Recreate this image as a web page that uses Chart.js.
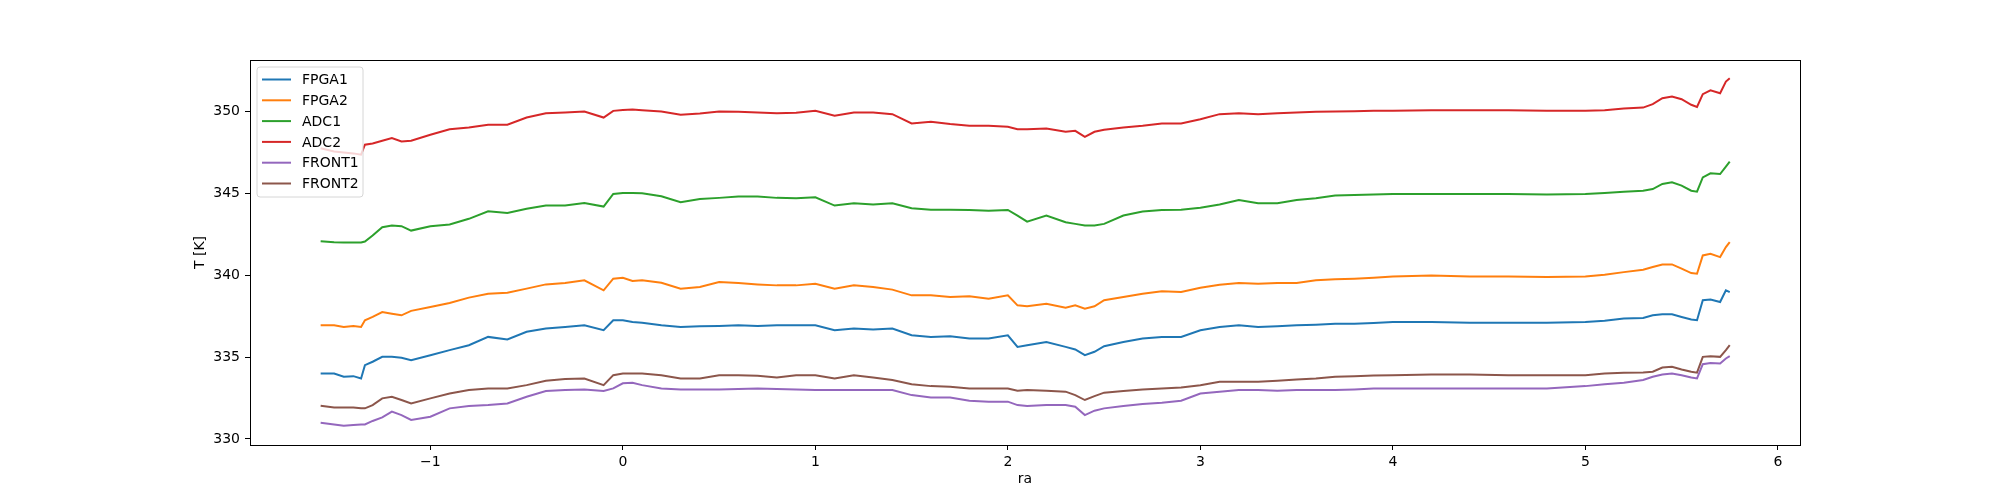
<!DOCTYPE html>
<html>
<head>
<meta charset="utf-8">
<script src="https://cdn.jsdelivr.net/npm/chart.js@4.4.1/dist/chart.umd.min.js"></script>
<style>
  body { margin: 0; background: #fff; }
  #wrap { width: 2000px; height: 500px; }
</style>
</head>
<body>
<div id="wrap"><canvas id="tempChart" width="2000" height="500"></canvas></div>
<script>
// ra values (shared by all series)
const ra = [-1.57, -1.5, -1.45, -1.4, -1.36, -1.34, -1.3, -1.25, -1.2, -1.15, -1.1,
    -1.0, -0.9, -0.8, -0.7, -0.6, -0.5, -0.4, -0.3, -0.2, -0.1, -0.05, 0, 0.05, 0.1,
    0.2, 0.3, 0.4, 0.5, 0.6, 0.7, 0.8, 0.9, 1.0, 1.1, 1.2, 1.3, 1.4, 1.5, 1.6, 1.7, 1.8, 1.9, 2.0,
    2.05, 2.1, 2.2, 2.3, 2.35, 2.4, 2.45, 2.5, 2.6, 2.7, 2.8, 2.9, 3.0, 3.1, 3.2, 3.3, 3.4, 3.5,
    3.6, 3.7, 3.8, 3.9, 4.0, 4.2, 4.4, 4.6, 4.8, 5.0, 5.1, 5.2, 5.3,
    5.35, 5.4, 5.45, 5.5, 5.55, 5.58, 5.61, 5.65, 5.7, 5.73, 5.75];

const fpga1 = [334.00, 334.00, 333.80, 333.84, 333.70, 334.51, 334.72, 335.02, 335.02, 334.96, 334.82,
    335.12, 335.43, 335.73, 336.24, 336.08, 336.55, 336.75, 336.85, 336.95, 336.65, 337.26, 337.26, 337.15, 337.11,
    336.95, 336.85, 336.89, 336.91, 336.95, 336.91, 336.95, 336.95, 336.95, 336.65, 336.75, 336.69, 336.75, 336.34, 336.24, 336.28, 336.14, 336.14, 336.34,
    335.63, 335.73, 335.93, 335.63, 335.47, 335.12, 335.33, 335.67, 335.93, 336.14, 336.24, 336.24, 336.65, 336.85, 336.95, 336.85, 336.89, 336.95,
    336.99, 337.05, 337.05, 337.09, 337.15, 337.15, 337.11, 337.11, 337.11, 337.15, 337.22, 337.36, 337.40,
    337.56, 337.62, 337.62, 337.46, 337.30, 337.26, 338.48, 338.52, 338.37, 339.09, 338.98];

const fpga2 = [336.95, 336.95, 336.85, 336.91, 336.85, 337.26, 337.46, 337.76, 337.66, 337.56, 337.83,
    338.07, 338.31, 338.64, 338.88, 338.94, 339.19, 339.45, 339.53, 339.70, 339.09, 339.80, 339.86, 339.66, 339.70,
    339.55, 339.19, 339.29, 339.59, 339.53, 339.45, 339.39, 339.39, 339.49, 339.19, 339.39, 339.29, 339.13, 338.78, 338.78, 338.68, 338.72, 338.58, 338.78,
    338.17, 338.11, 338.27, 338.03, 338.17, 337.97, 338.11, 338.48, 338.68, 338.88, 339.03, 338.99, 339.25, 339.43, 339.53, 339.49, 339.53, 339.53,
    339.70, 339.76, 339.80, 339.86, 339.94, 340.00, 339.94, 339.94, 339.90, 339.94, 340.04, 340.20, 340.35,
    340.51, 340.67, 340.67, 340.41, 340.14, 340.10, 341.22, 341.32, 341.12, 341.73, 342.03];

const adc1 = [342.09, 342.03, 342.01, 342.01, 342.01, 342.07, 342.44, 342.95, 343.05, 343.01, 342.74,
    343.01, 343.11, 343.46, 343.92, 343.82, 344.07, 344.27, 344.27, 344.43, 344.21, 344.98, 345.04, 345.04, 345.02,
    344.84, 344.47, 344.67, 344.74, 344.82, 344.82, 344.74, 344.72, 344.78, 344.27, 344.41, 344.33, 344.41, 344.11, 344.02, 344.02, 344.00, 343.96, 344.00,
    343.66, 343.29, 343.66, 343.25, 343.15, 343.05, 343.05, 343.15, 343.66, 343.90, 344.00, 344.02, 344.13, 344.33, 344.61, 344.41, 344.41, 344.61,
    344.72, 344.88, 344.92, 344.94, 344.98, 344.98, 344.98, 344.98, 344.94, 344.98, 345.04, 345.12, 345.18,
    345.28, 345.59, 345.69, 345.49, 345.18, 345.12, 345.99, 346.24, 346.20, 346.65, 346.95];

const adc2 = [347.78, 347.58, 347.52, 347.46, 347.38, 347.99, 348.07, 348.23, 348.40, 348.19, 348.23,
    348.60, 348.94, 349.04, 349.21, 349.21, 349.65, 349.92, 349.96, 350.02, 349.65, 350.06, 350.12, 350.14, 350.10,
    350.02, 349.82, 349.90, 350.02, 350.00, 349.96, 349.92, 349.94, 350.06, 349.76, 349.96, 349.96, 349.86, 349.29, 349.39, 349.25, 349.15, 349.15, 349.09,
    348.94, 348.94, 348.98, 348.78, 348.84, 348.47, 348.78, 348.90, 349.04, 349.15, 349.29, 349.29, 349.55, 349.86, 349.92, 349.86, 349.92, 349.96,
    350.00, 350.02, 350.04, 350.06, 350.06, 350.10, 350.10, 350.10, 350.06, 350.06, 350.10, 350.20, 350.26,
    350.47, 350.83, 350.94, 350.77, 350.43, 350.30, 351.08, 351.32, 351.14, 351.85, 352.05];

const front1 = [330.99, 330.89, 330.81, 330.85, 330.89, 330.89, 331.10, 331.32, 331.67, 331.46, 331.16,
    331.36, 331.87, 332.01, 332.07, 332.17, 332.58, 332.93, 332.99, 333.03, 332.93, 333.09, 333.40, 333.44, 333.29,
    333.09, 333.03, 333.03, 333.03, 333.05, 333.09, 333.05, 333.03, 332.99, 332.99, 332.99, 332.99, 332.99, 332.68, 332.54, 332.54, 332.34, 332.28, 332.28,
    332.07, 332.01, 332.07, 332.07, 331.97, 331.46, 331.73, 331.87, 332.01, 332.13, 332.22, 332.34, 332.78, 332.89, 332.99, 332.99, 332.95, 332.99,
    332.99, 332.99, 333.03, 333.09, 333.09, 333.09, 333.09, 333.09, 333.09, 333.23, 333.35, 333.44, 333.60,
    333.80, 333.94, 334.00, 333.90, 333.76, 333.70, 334.57, 334.65, 334.61, 334.92, 335.06];

const front2 = [332.03, 331.93, 331.93, 331.93, 331.87, 331.87, 332.07, 332.48, 332.58, 332.38, 332.17,
    332.48, 332.78, 332.99, 333.09, 333.09, 333.29, 333.56, 333.66, 333.70, 333.29, 333.90, 334.00, 334.00, 334.00,
    333.90, 333.70, 333.70, 333.90, 333.90, 333.86, 333.76, 333.90, 333.90, 333.70, 333.90, 333.76, 333.60, 333.35, 333.23, 333.19, 333.09, 333.09, 333.09,
    332.95, 332.99, 332.95, 332.89, 332.68, 332.38, 332.62, 332.83, 332.93, 333.03, 333.09, 333.15, 333.29, 333.50, 333.50, 333.50, 333.56, 333.64,
    333.70, 333.80, 333.84, 333.88, 333.90, 333.94, 333.94, 333.90, 333.90, 333.90, 334.00, 334.05, 334.07,
    334.11, 334.37, 334.41, 334.25, 334.11, 334.05, 335.02, 335.06, 335.02, 335.43, 335.73];

const seriesNames = ['FPGA1', 'FPGA2', 'ADC1', 'ADC2', 'FRONT1', 'FRONT2'];
const seriesValues = [fpga1, fpga2, adc1, adc2, front1, front2];
const seriesColors = ['#1f77b4', '#ff7f0e', '#2ca02c', '#d62728', '#9467bd', '#8c564b'];

const xTicks = [-1, 0, 1, 2, 3, 4, 5, 6];
const yTicks = [330, 335, 340, 345, 350];

Chart.defaults.font.family = 'DejaVu Sans';
Chart.defaults.font.size = 14;
Chart.defaults.color = '#000';

// axes box + matplotlib style legend in the upper left
const frameAndLegend = {
    id: 'frameAndLegend',
    afterDraw(chart) {
        const ctx = chart.ctx;
        const a = chart.chartArea;
        ctx.save();
        ctx.strokeStyle = '#000';
        ctx.lineWidth = 1;
        ctx.strokeRect(Math.round(a.left) + 0.5, Math.round(a.top) + 0.5,
            Math.round(a.right - a.left), Math.round(a.bottom - a.top));

        const bx = a.left + 7, by = a.top + 7, bw = 106, bh = 130, r = 3;
        ctx.beginPath();
        ctx.moveTo(bx + r, by);
        ctx.arcTo(bx + bw, by, bx + bw, by + bh, r);
        ctx.arcTo(bx + bw, by + bh, bx, by + bh, r);
        ctx.arcTo(bx, by + bh, bx, by, r);
        ctx.arcTo(bx, by, bx + bw, by, r);
        ctx.closePath();
        ctx.fillStyle = 'rgba(255,255,255,0.8)';
        ctx.fill();
        ctx.strokeStyle = '#d6d6d6';
        ctx.stroke();

        ctx.font = '14px "DejaVu Sans"';
        ctx.textBaseline = 'middle';
        ctx.textAlign = 'left';
        seriesNames.forEach((name, i) => {
            const y = a.top + 19.5 + i * 20.8;
            ctx.strokeStyle = seriesColors[i];
            ctx.lineWidth = 2;
            ctx.beginPath();
            ctx.moveTo(a.left + 12, y);
            ctx.lineTo(a.left + 41, y);
            ctx.stroke();
            ctx.fillStyle = '#000';
            ctx.fillText(name, a.left + 52, y + 1);
        });
        ctx.restore();
    }
};

const datasets = seriesNames.map((name, i) => ({
    label: name,
    data: ra.map((x, j) => ({ x: x, y: seriesValues[i][j] })),
    borderColor: seriesColors[i],
    backgroundColor: seriesColors[i],
    borderWidth: 2,
    pointRadius: 0,
    tension: 0,
    fill: false
}));

const ctx = document.getElementById('tempChart').getContext('2d');
new Chart(ctx, {
    type: 'line',
    data: { datasets: datasets },
    plugins: [frameAndLegend],
    options: {
        responsive: false,
        animation: false,
        layout: { padding: { left: 180, top: 60, right: 200, bottom: 0 } },
        plugins: { legend: { display: false }, tooltip: { enabled: false } },
        scales: {
            x: {
                type: 'linear',
                min: -1.937,
                max: 6.115,
                afterFit(scale) { scale.height = 55; },
                afterBuildTicks(scale) { scale.ticks = xTicks.map(v => ({ value: v })); },
                ticks: {
                    padding: 4,
                    maxRotation: 0,
                    callback: v => String(v).replace('-', '\u2212')
                },
                grid: { drawOnChartArea: false, drawTicks: true, tickLength: 5, tickColor: '#000' },
                border: { display: false },
                title: { display: true, text: 'ra', padding: { top: 0, bottom: 12 } }
            },
            y: {
                type: 'linear',
                min: 329.63,
                max: 353.17,
                afterFit(scale) { scale.width = 70; },
                afterBuildTicks(scale) { scale.ticks = yTicks.map(v => ({ value: v })); },
                ticks: { padding: 5 },
                grid: { drawOnChartArea: false, drawTicks: true, tickLength: 5, tickColor: '#000' },
                border: { display: false },
                title: { display: true, text: 'T [K]', padding: { top: 12, bottom: 0 } }
            }
        }
    }
});
</script>
</body>
</html>
